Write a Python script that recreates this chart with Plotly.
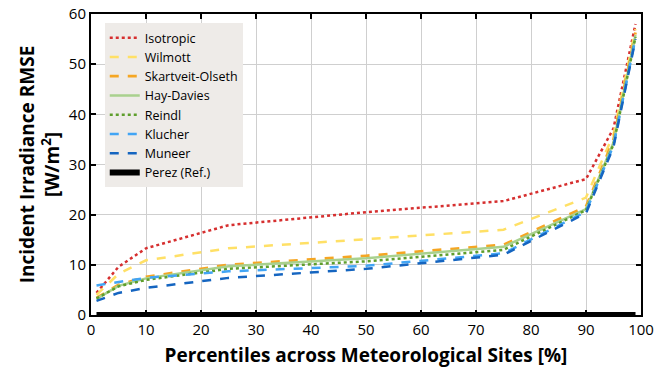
import plotly.graph_objects as go

percentiles = [1, 5, 10, 25, 50, 75, 90, 95, 99]
isotropic = [4.4, 9.6, 13.3, 17.9, 20.5, 22.7, 27.1, 37.2, 58.0]
wilmott = [4.0, 8.2, 10.9, 13.3, 15.1, 17.0, 23.4, 36.0, 57.0]
skartveit = [3.4, 6.0, 7.6, 10.0, 11.8, 14.0, 21.6, 35.0, 56.3]
haydavies = [3.2, 5.8, 7.3, 9.7, 11.3, 13.6, 21.1, 34.4, 55.8]
reindl = [3.3, 5.7, 7.0, 9.2, 10.7, 13.0, 20.9, 34.0, 55.4]
klucher = [5.9, 6.6, 7.4, 8.7, 9.8, 12.3, 20.6, 33.8, 55.2]
muneer = [2.8, 4.4, 5.4, 7.4, 9.2, 12.0, 20.3, 33.5, 55.0]
perez = [0, 0, 0, 0, 0, 0, 0, 0, 0]

series = [
    ("Isotropic", isotropic, "#D62F2F", "dot", 2.5),
    ("Wilmott", wilmott, "#FFE066", "dash", 2.5),
    ("Skartveit-Olseth", skartveit, "#F5A623", "dash", 2.8),
    ("Hay-Davies", haydavies, "#A9D18E", "solid", 2.5),
    ("Reindl", reindl, "#5E9E2C", "dot", 2.5),
    ("Klucher", klucher, "#42A5F5", "dash", 2.5),
    ("Muneer", muneer, "#1565C0", "dash", 2.5),
    ("Perez (Ref.)", perez, "#000000", "solid", 6),
]

fig = go.Figure()
for name, vals, color, dash, w in series:
    fig.add_trace(go.Scatter(x=percentiles, y=vals, mode="lines", name=name,
                             line=dict(color=color, dash=dash, width=w)))

axis_common = dict(showline=True, linewidth=2, linecolor="black", mirror="ticks",
                   ticks="inside", ticklen=5, tickwidth=1.5, tickcolor="black",
                   showgrid=True, gridcolor="#CFCFCF", gridwidth=1, zeroline=False,
                   automargin=False,
                   tickfont=dict(size=15, color="black"))

fig.update_xaxes(range=[0, 100], dtick=10,
                 title=dict(text="<b>Percentiles across Meteorological Sites [%]</b>",
                            font=dict(size=19, color="black"), standoff=11),
                 **axis_common)
fig.update_yaxes(range=[0, 60], dtick=10,
                 title=dict(text="<b>Incident Irradiance RMSE<br>[W/m<sup>2</sup>]</b>",
                            font=dict(size=19, color="black"), standoff=4),
                 **axis_common)

fig.update_layout(
    width=658, height=376,
    margin=dict(l=91, r=17, t=14, b=61),
    plot_bgcolor="white", paper_bgcolor="white",
    font=dict(family="Open Sans, sans-serif", color="black"),
    legend=dict(x=0.025, y=0.97, xanchor="left", yanchor="top",
                bgcolor="#EEEBE8", font=dict(size=12.5, color="black"),
                tracegroupgap=0, itemwidth=30, entrywidth=140),
    showlegend=True,
)

fig.write_html("out.html", config={"displayModeBar": False},
               post_script="document.body.style.margin='0';document.body.style.overflow='hidden';")
